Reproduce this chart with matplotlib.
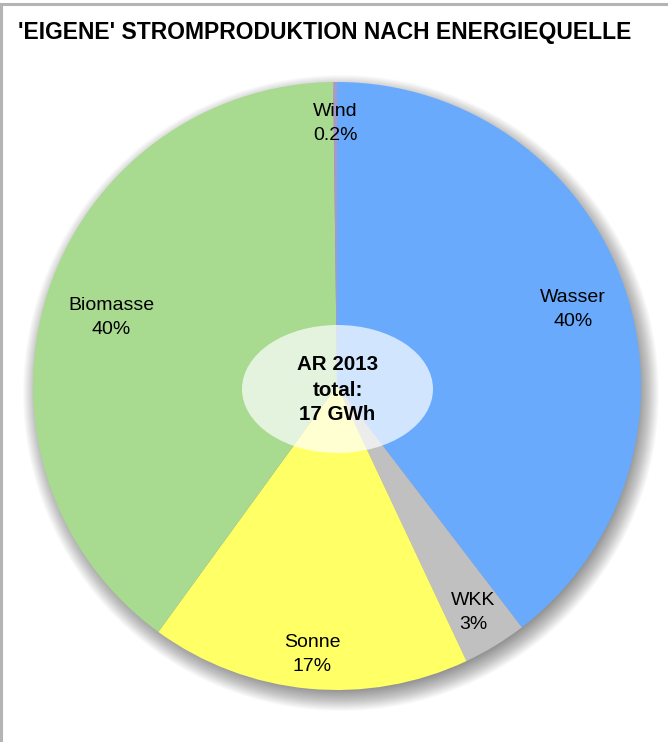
import matplotlib
matplotlib.use("Agg")
import matplotlib.pyplot as plt
from matplotlib.patches import Ellipse, Circle
import numpy as np

# ---- data ----
categories = ["Wasser", "WKK", "Sonne", "Biomasse", "Wind"]
values = [39.6, 3.4, 17.0, 39.8, 0.2]
pct_labels = ["40%", "3%", "17%", "40%", "0.2%"]
title = "'EIGENE' STROMPRODUKTION NACH ENERGIEQUELLE"
center_text = "AR 2013\ntotal:\n17 GWh"

# ---- style ----
colors = ["#69AAFD", "#C0C0C0", "#FFFF66", "#A8DA90", "#A899C8"]
label_dist = [0.82, 0.86, 0.875, 0.78, 0.875]
plt.rcParams['font.family'] = ['Liberation Sans', 'DejaVu Sans']

W, H = 668, 742
fig = plt.figure(figsize=(W / 100, H / 100), dpi=100)
ax = fig.add_axes([0, 0, 1, 1])
ax.set_xlim(0, W)
ax.set_ylim(0, H)
ax.set_aspect('equal')
ax.axis('off')

cx, cy, R = 337, H - 386, 304

# shadow
for i in range(24):
    ax.add_patch(Circle((cx + 4, cy - 7), R + 14 - i * 0.9, color='black',
                        alpha=0.018, lw=0, zorder=1))

wedges, _ = ax.pie(values, colors=colors, startangle=90, counterclock=False,
                   center=(cx, cy), radius=R, frame=True,
                   wedgeprops=dict(linewidth=0, zorder=2))
ax.set_xlim(0, W)
ax.set_ylim(0, H)
ax.axis('off')

for w, cat, pl, d in zip(wedges, categories, pct_labels, label_dist):
    th = np.deg2rad((w.theta1 + w.theta2) / 2)
    x = cx + d * R * np.cos(th)
    y = cy + d * R * np.sin(th) - 3.5
    ax.text(x, y, f"{cat}\n{pl}", ha='center', va='center', fontsize=14,
            color='black', zorder=5, linespacing=1.55)

ax.add_patch(Ellipse((337.5, H - 389), 191, 128, facecolor='white', alpha=0.7,
                     lw=0, zorder=4))
ax.text(337.5, H - 390, center_text, ha='center', va='center', fontsize=14.8,
        fontweight='bold', zorder=6, linespacing=1.4)

fig.text(18 / W, 1 - 32 / H, title, ha='left', va='center', fontsize=16.5,
         fontweight='bold')

# frame lines (top and left)
fig.add_artist(plt.Line2D([0, 1], [1 - 4 / H, 1 - 4 / H], color='#B4B4B4', lw=2.2))
fig.add_artist(plt.Line2D([1 / W, 1 / W], [0, 1 - 4 / H], color='#B4B4B4', lw=2.2))

fig.savefig("out.png", dpi=100, facecolor='white')
